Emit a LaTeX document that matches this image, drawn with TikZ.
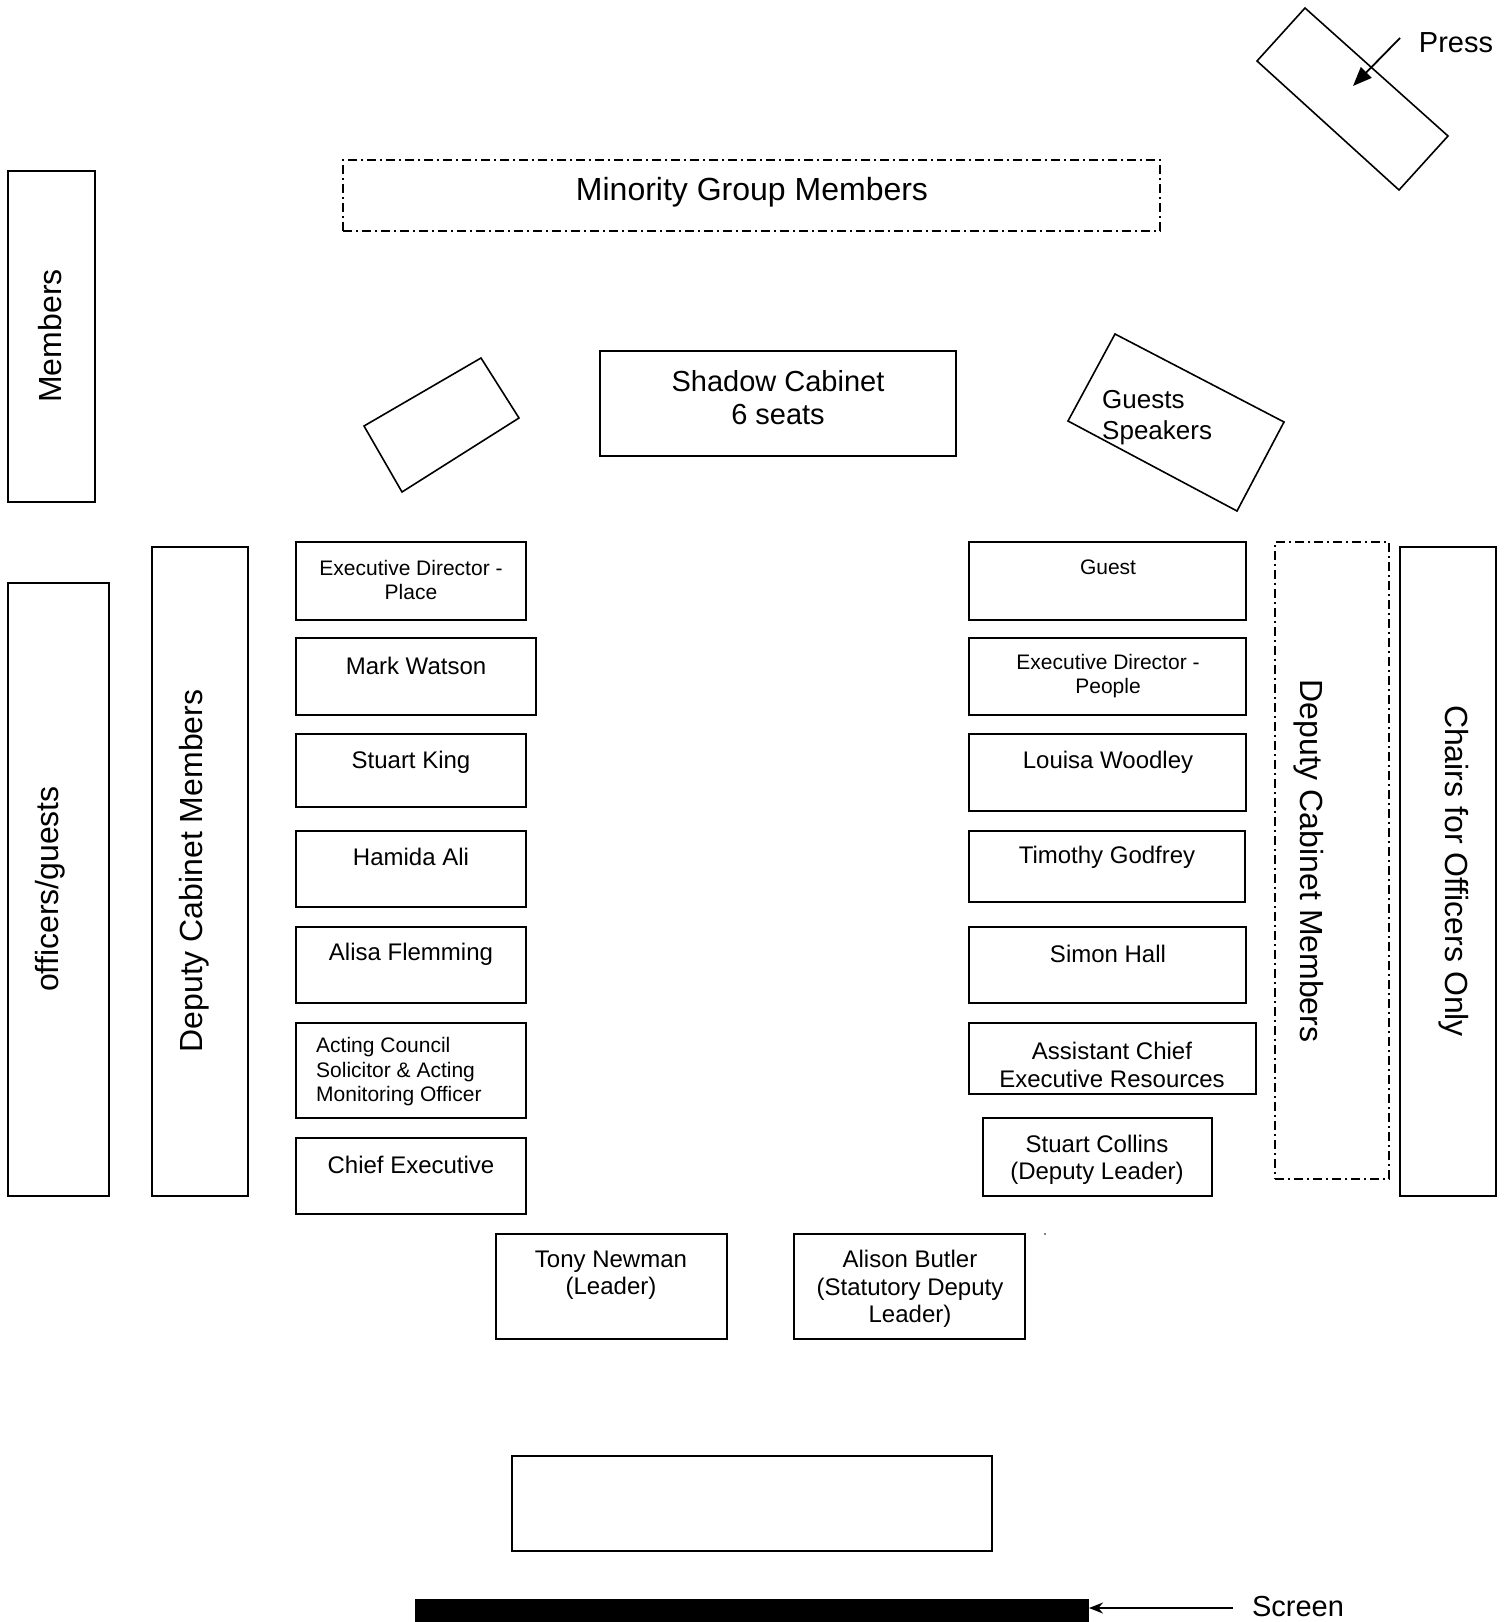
\documentclass[tikz,border=0pt]{standalone}
\usepackage{fontspec}
\setmainfont{Liberation Sans}
\usetikzlibrary{arrows.meta,fit}
\tikzset{
  box/.style={draw, line width=1.6pt, inner sep=0pt, outer sep=0pt},
  dbox/.style={box, dash pattern=on 9pt off 4pt on 2pt off 4pt},
  tl/.style={font=\fontsize{32}{36}\selectfont, inner sep=0pt},
  tm/.style={font=\fontsize{29}{33}\selectfont, inner sep=0pt, align=center, yshift=-2pt},
  tg/.style={font=\fontsize{26}{31}\selectfont, inner sep=0pt, align=left, yshift=-3pt},
  tb/.style={font=\fontsize{24}{27.5}\selectfont, inner sep=0pt, align=center, yshift=-2pt},
  ts/.style={font=\fontsize{21}{24.5}\selectfont, inner sep=0pt, align=center, yshift=-1pt},
}
\begin{document}
\begin{tikzpicture}[x=1pt,y=-1pt]
\useasboundingbox (0,0) rectangle (1509,1622);

% Press
\coordinate (p1) at (1305,8); \coordinate (p2) at (1448,136);
\coordinate (p3) at (1399,190); \coordinate (p4) at (1257,61);
\draw[line width=1.6pt] (p1) -- (p2) -- (p3) -- (p4) -- cycle;
\node[tm] (press) at (1456,41) {Press};
\coordinate (pa) at (1400,38);
\coordinate (pt) at (1353,86);
\draw[line width=1.8pt, -{Triangle[length=19pt,width=15pt]}] (pa) -- (pt);

% Minority
\node[dbox, fit={(343,160) (1160,231)}] (minb) {};
\node[tl] (mint) at (752,192) {Minority Group Members};

% Members
\node[box, fit={(8,171) (95,502)}] (memb) {};
\node[tl, rotate=90] (memt) at (50,336) {Members};

% Left tilted
\coordinate (l1) at (364,426); \coordinate (l2) at (481,358);
\coordinate (l3) at (519,418); \coordinate (l4) at (402,492);
\draw[line width=1.6pt] (l1) -- (l2) -- (l3) -- (l4) -- cycle;

% Shadow Cabinet
\node[box, fit={(600,351) (956,456)}] (shb) {};
\node[tm] (sht) at (778,396) {Shadow Cabinet\\6 seats};

% Guests Speakers tilted
\coordinate (g1) at (1115,334); \coordinate (g2) at (1284,422);
\coordinate (g3) at (1237,511); \coordinate (g4) at (1068,421);
\draw[line width=1.6pt] (g1) -- (g2) -- (g3) -- (g4) -- cycle;
\node[tg, anchor=west] (gst) at (1102,415) {Guests\\Speakers};

% Left side long boxes
\node[box, fit={(8,583) (109,1196)}] (offb) {};
\node[tl, rotate=90] (offt) at (50,889) {officers/guests};
\node[box, fit={(152,547) (248,1196)}] (dcl) {};
\node[tl, rotate=90] (dclt) at (194,871) {Deputy Cabinet Members};

% Left boxes
\node[box, fit={(296,542) (526,620)}] (lb1) {};
\node[ts] at (411,579) {Executive Director -\\Place};
\node[box, fit={(296,638) (536,715)}] (lb2) {};
\node[tb] at (416,664) {Mark Watson};
\node[box, fit={(296,734) (526,807)}] (lb3) {};
\node[tb] at (411,760) {Stuart King};
\node[box, fit={(296,831) (526,907)}] (lb4) {};
\node[tb] at (411,855) {Hamida Ali};
\node[box, fit={(296,927) (526,1003)}] (lb5) {};
\node[tb] at (411,952) {Alisa Flemming};
\node[box, fit={(296,1023) (526,1118)}] (lb6) {};
\node[ts, align=left, anchor=west] at (316,1071) {Acting Council\\Solicitor \& Acting\\Monitoring Officer};
\node[box, fit={(296,1138) (526,1214)}] (lb7) {};
\node[tb] at (411,1163) {Chief Executive};

% Right boxes
\node[box, fit={(969,542) (1246,620)}] (rb1) {};
\node[ts] at (1108,566) {Guest};
\node[box, fit={(969,638) (1246,715)}] (rb2) {};
\node[ts] at (1108,675) {Executive Director -\\People};
\node[box, fit={(969,734) (1246,811)}] (rb3) {};
\node[tb] at (1108,760) {Louisa Woodley};
\node[box, fit={(969,831) (1245,902)}] (rb4) {};
\node[tb] at (1107,855) {Timothy Godfrey};
\node[box, fit={(969,927) (1246,1003)}] (rb5) {};
\node[tb] at (1108,952) {Simon Hall};
\node[box, fit={(969,1023) (1256,1094)}] (rb6) {};
\node[tb] at (1112,1063) {Assistant Chief\\Executive Resources};
\node[box, fit={(983,1118) (1212,1196)}] (rb7) {};
\node[tb] at (1097,1158) {Stuart Collins\\(Deputy Leader)};

% Right long boxes
\node[dbox, fit={(1275,542) (1389,1179)}] (dcr) {};
\node[tl, rotate=-90] (dcrt) at (1309,861) {Deputy Cabinet Members};
\node[box, fit={(1400,547) (1496,1196)}] (chb) {};
\node[tl, rotate=-90] (cht) at (1454,871) {Chairs for Officers Only};

% Leaders
\node[box, fit={(496,1234) (727,1339)}] (tn) {};
\node[tb] at (611,1273) {Tony Newman\\(Leader)};
\node[box, fit={(794,1234) (1025,1339)}] (ab) {};
\node[tb] at (910,1287) {Alison Butler\\(Statutory Deputy\\Leader)};
\fill (1045,1234) circle (0.9pt);

% Bottom table
\node[box, fit={(512,1456) (992,1551)}] (tbl) {};

% Screen
\node[fill=black, inner sep=0pt, outer sep=0pt, fit={(415,1599) (1089,1622)}] (scr) {};
\node[tm] (scrt) at (1298,1604) {Screen};
\coordinate (sa) at (1233,1608);
\draw[line width=1.8pt, -{Stealth[length=14pt,width=11pt]}] (sa) -- (scr.east |- sa);
\end{tikzpicture}
\end{document}
